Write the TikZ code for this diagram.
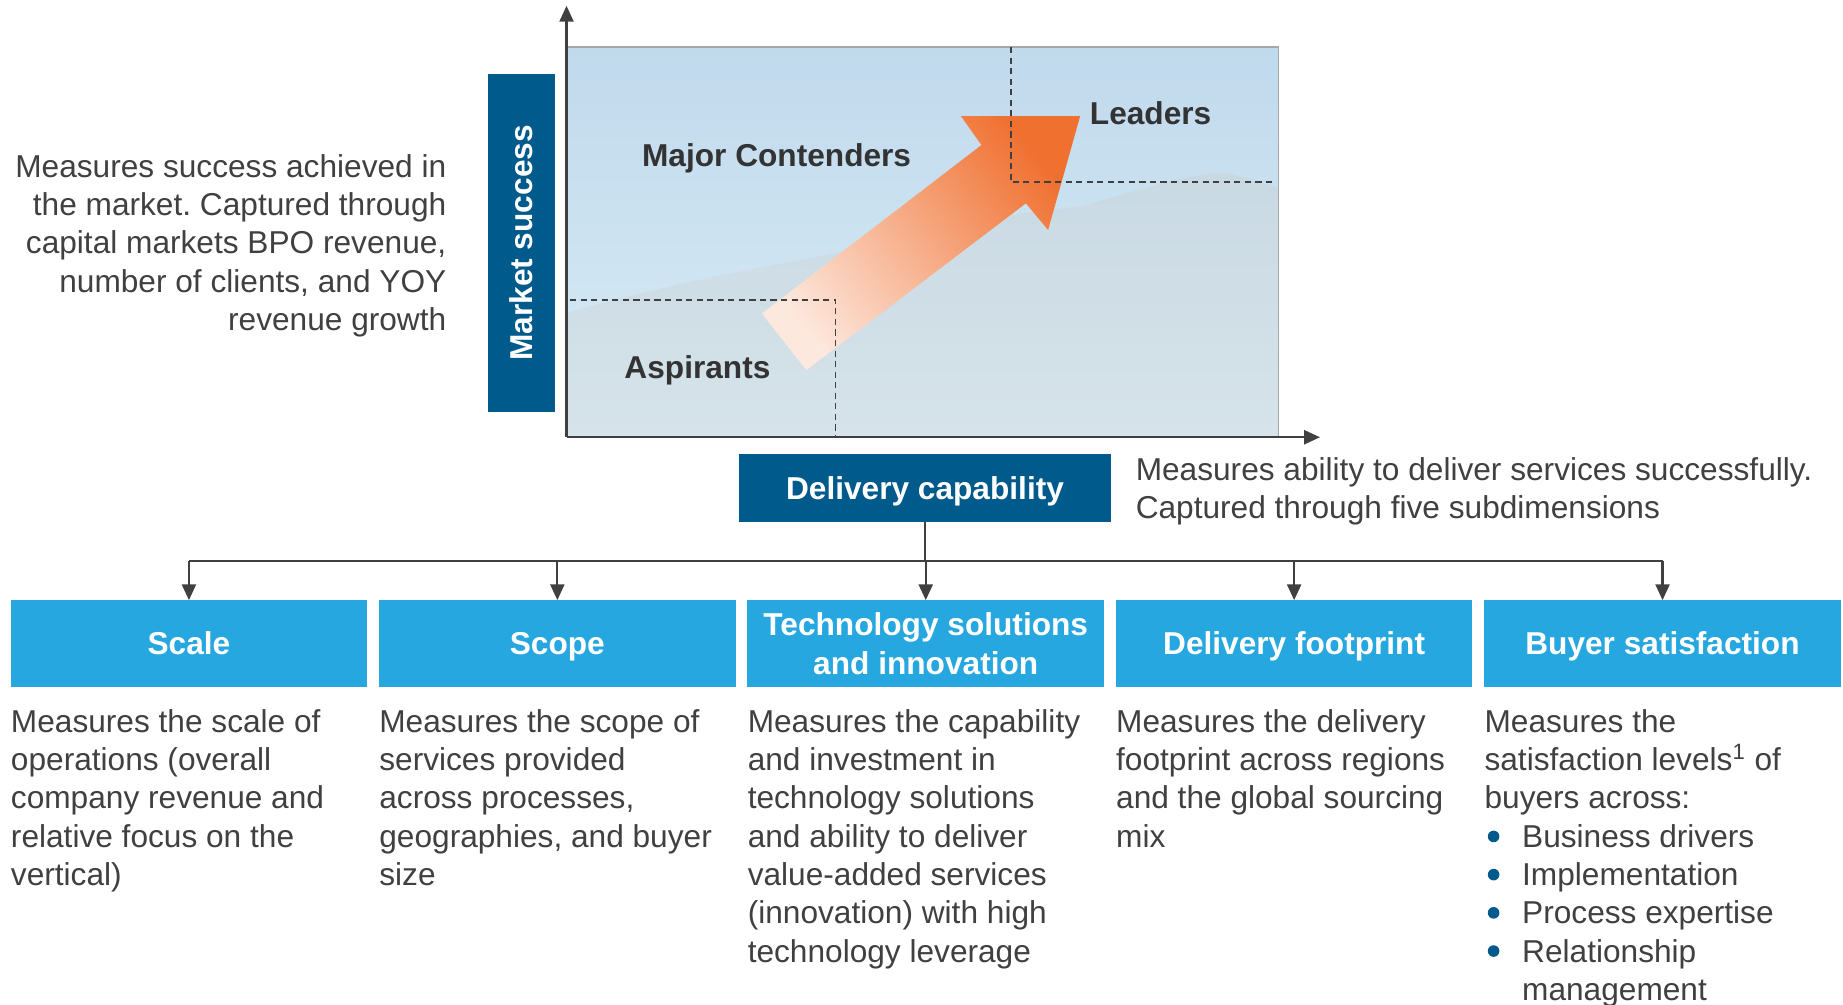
\documentclass[tikz,border=0pt]{standalone}
\usepackage{fontspec}
\setmainfont{Liberation Sans}
\usetikzlibrary{positioning, arrows.meta, calc}
\frenchspacing

\definecolor{navy}{RGB}{0,90,140}
\definecolor{skyblue}{RGB}{39,167,224}
\definecolor{textgray}{RGB}{64,64,64}
\definecolor{labelgray}{RGB}{51,51,51}
\definecolor{linegray}{RGB}{64,64,64}
\definecolor{arrowlight}{RGB}{253,232,222}
\definecolor{arrowdark}{RGB}{240,112,48}
\definecolor{skytop}{RGB}{192,217,236}
\definecolor{skylow}{RGB}{216,236,246}
\definecolor{rocktop}{RGB}{201,217,227}
\definecolor{rocklow}{RGB}{214,227,234}

\begin{document}
\begin{tikzpicture}[
    x=0.0235cm, y=-0.0235cm,
    trunk/.style={line width=1.2pt, draw=linegray},
    arrow/.style={trunk, -{Triangle[length=9pt, width=8pt]}},
    guide/.style={dash pattern=on 3.5pt off 2.5pt, line width=0.9pt, draw=linegray},
    headbox/.style={fill=navy, text=white, inner sep=0pt, outer sep=0pt, text height=12.9pt, text depth=0pt, font=\bfseries\fontsize{18}{22}\selectfont},
    catbox/.style={fill=skyblue, text=white, inner sep=0pt, outer sep=0pt, align=center, minimum width=7.13cm, minimum height=1.734cm, font=\bfseries\fontsize{18}{22}\selectfont},
    oneline/.style={catbox, text height=12.9pt, text depth=0pt},
    desc/.style={anchor=north west, inner sep=0pt, align=left, text=textgray, font=\fontsize{18}{21.8}\selectfont},
    zone/.style={anchor=base west, inner sep=0pt, text=labelgray, font=\bfseries\fontsize{18}{22}\selectfont}
]
    \useasboundingbox (0,0) rectangle (1568,855);

    % Chart background: sky and mountain
    \shade[top color=skytop, bottom color=skylow] (482,40) rectangle (1088,372);
    \shade[top color=rocktop, bottom color=rocklow]
        plot[smooth] coordinates {(482,266) (520,256) (560,246) (600,237) (650,227) (703,217) (760,203) (820,191) (873,181) (920,175) (967,162) (1005,152) (1038,147) (1062,152) (1088,160)}
        -- (1088,372) -- (482,372) -- cycle;
    \draw[gray!70, line width=0.6pt] (482,40) -- (1088,40) -- (1088,372);

    % Growth arrow
    \shade[bottom color=arrowlight, top color=arrowdark, shading angle=-52]
        (817.5,98.7) -- (919,98.7) -- (891.7,195.7) -- (872.8,173) -- (686,314.9) -- (648.2,266.7) -- (835,123.4) -- cycle;

    % Quadrant borders
    \draw[guide] (860,40) -- (860,155) -- (1086,155);
    \draw[guide] (485,255) -- (711,255) -- (711,371);

    % Axes
    \coordinate (origin) at (482,372);
    \coordinate (ytop) at (482,5);
    \coordinate (xend) at (1123,372);
    \draw[arrow] (origin) -- (ytop);
    \draw[arrow] (origin) -- (xend);

    % Quadrant labels
    \node[zone] (leaders) at (927,106) {Leaders};
    \node[zone] (major) at (546,142) {Major Contenders};
    \node[zone] (aspirants) at (531,322) {Aspirants};

    % Vertical dimension
    \node[headbox, text height=, text depth=, rotate=90, minimum width=6.754cm, minimum height=1.337cm] (market) at (443.5,206.7) {Market success};
    \node[desc, anchor=north east, align=right] (marketnote) at (380,131) {Measures success achieved in\\the market. Captured through\\capital markets BPO revenue,\\number of clients, and YOY\\revenue growth};

    % Horizontal dimension
    \node[headbox, minimum width=7.44cm, minimum height=1.354cm] (delivery) at (787,415.2) {Delivery capability};
    \node[desc] (deliverynote) at (966,389) {Measures ability to deliver services successfully.\\Captured through five subdimensions};

    % Subdimensions
    \node[oneline] (scale) at (160.75,547.5) {Scale};
    \node[oneline, right=0.235cm of scale] (scope) {Scope};
    \node[catbox, right=0.235cm of scope] (tech) {Technology solutions\\and innovation};
    \node[oneline, right=0.235cm of tech] (foot) {Delivery footprint};
    \node[oneline, right=0.235cm of foot] (buyer) {Buyer satisfaction};

    % Tree connectors
    \coordinate (bus) at (787,477.5);
    \draw[trunk] (delivery.south) -- (bus);
    \draw[trunk] (scale.north |- bus) -- (buyer.north |- bus);
    \foreach \n in {scale, scope, tech, foot, buyer}
        \draw[arrow] (\n.north |- bus) -- (\n.north);

    % Descriptions
    \node[desc, below right=0.44cm and 0cm of scale.south west] (scalenote) {Measures the scale of\\operations (overall\\company revenue and\\relative focus on the\\vertical)};
    \node[desc, below right=0.44cm and 0cm of scope.south west] (scopenote) {Measures the scope of\\services provided\\across processes,\\geographies, and buyer\\size};
    \node[desc, below right=0.44cm and 0cm of tech.south west] (technote) {Measures the capability\\and investment in\\technology solutions\\and ability to deliver\\value-added services\\(innovation) with high\\technology leverage};
    \node[desc, below right=0.44cm and 0cm of foot.south west] (footnote) {Measures the delivery\\footprint across regions\\and the global sourcing\\mix};
    \node[desc, below right=0.44cm and 0cm of buyer.south west] (buyernote) {Measures the\\satisfaction levels\textsuperscript{1} of\\buyers across:\\\hspace*{21.4pt}Business drivers\\\hspace*{21.4pt}Implementation\\\hspace*{21.4pt}Process expertise\\\hspace*{21.4pt}Relationship\\\hspace*{21.4pt}management};

    % Bullets
    \foreach \k in {0,...,3}
        \fill[navy] ($(buyernote.north west)+(8,108.5+32.5*\k)$) circle (3.3pt);

\end{tikzpicture}
\end{document}
